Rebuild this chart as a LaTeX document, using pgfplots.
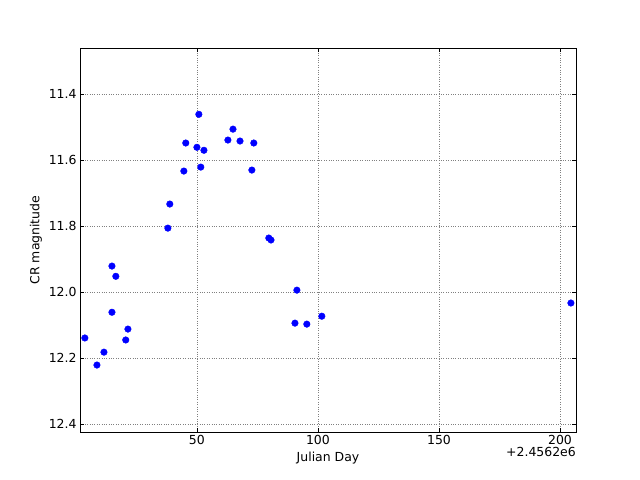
\documentclass[border=0pt]{standalone}
\usepackage{pgfplots}
\pgfplotsset{compat=1.18}
\usepackage{fontspec}
\setmainfont{DejaVu Sans}
\begin{document}
\begin{tikzpicture}
\begin{axis}[
  scale only axis,
  width=496bp, height=384bp,
  xmin=1.7, xmax=206.6,
  ymin=11.26, ymax=12.424,
  y dir=reverse,
  xtick={50,100,150,200},
  ytick={11.4,11.6,11.8,12.0,12.2,12.4},
  yticklabel style={/pgf/number format/.cd,fixed,fixed zerofill,precision=1},
  /pgf/number format/assume math mode=true,
  tick align=inside,
  major tick length=4bp,
  tick style={black, line width=0.5bp},
  grid=major,
  grid style={black!50, dotted, line width=0.6bp},
  axis line style={black, line width=1bp},
  ticklabel style={font=\fontsize{12.5}{14}\selectfont},
  label style={font=\fontsize{12.5}{14}\selectfont},
  xlabel={Julian Day},
  ylabel={CR magnitude},
  xlabel style={yshift=0bp},
  ylabel style={yshift=0bp},
]
\addplot[only marks, mark=*, mark size=3.3bp, mark options={fill=blue, draw=blue}] coordinates {
(3.7,12.139) (8.7,12.221) (11.6,12.182) (14.9,11.921) (16.5,11.952)
(14.9,12.061) (20.6,12.145) (21.5,12.112) (38.0,11.806) (38.8,11.733)
(44.6,11.633) (45.4,11.548) (50.0,11.561) (50.8,11.461) (51.6,11.621)
(52.9,11.570) (62.8,11.539) (64.9,11.506) (67.8,11.542) (73.5,11.548)
(72.7,11.630) (79.7,11.836) (80.6,11.842) (90.5,12.094) (91.3,11.994)
(95.4,12.097) (101.6,12.073) (204.5,12.033)
};
\end{axis}
\node[anchor=north east, font=\fontsize{12.5}{14}\selectfont, inner sep=0pt] at ([yshift=-15bp]current axis.south east) {+2.4562e6};
\pgfresetboundingbox
\path[use as bounding box] ([shift={(-80bp,-48bp)}]current axis.south west) rectangle ([shift={(64bp,48bp)}]current axis.north east);
\end{tikzpicture}
\end{document}
